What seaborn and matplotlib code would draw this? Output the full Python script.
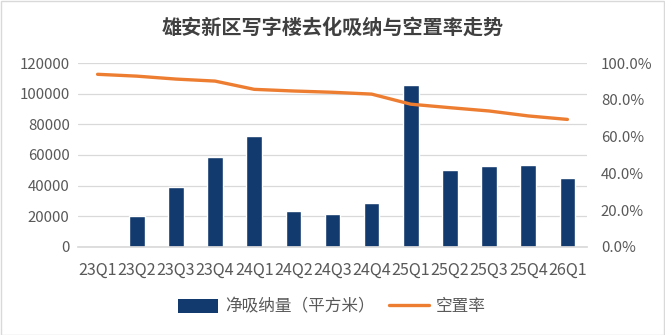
import numpy as np
import pandas as pd
import matplotlib
matplotlib.use("Agg")
import matplotlib.pyplot as plt
import seaborn as sns
from matplotlib.lines import Line2D
from matplotlib.patches import Patch, Rectangle

categories = ["23Q1", "23Q2", "23Q3", "23Q4", "24Q1", "24Q2", "24Q3", "24Q4",
              "25Q1", "25Q2", "25Q3", "25Q4", "26Q1"]
absorption = [0, 20000, 39300, 58800, 72500, 23300, 21300, 28600,
              106000, 50200, 52800, 53500, 45000]
vacancy = [94.0, 93.0, 91.4, 90.3, 85.8, 84.9, 84.2, 83.2,
           77.7, 75.8, 74.0, 71.3, 69.4]
left_ticks = [0, 20000, 40000, 60000, 80000, 100000, 120000]
right_ticks = [0, 20, 40, 60, 80, 100]

title = "雄安新区写字楼去化吸纳与空置率走势"
bar_label = "净吸纳量（平方米）"
line_label = "空置率"

sns.set_theme(style="white")
plt.rcParams['font.family'] = ['Noto Sans CJK SC', 'DejaVu Sans']

bar_color = "#123A6E"
line_color = "#ED7D31"
text_color = "#595959"

df = pd.DataFrame({"q": categories, "abs": absorption, "vac": vacancy,
                   "pos": np.arange(len(categories))})

fig = plt.figure(figsize=(6.65, 3.35), dpi=100)
ax = fig.add_axes([78/665, 1 - 246.7/335, (587-78)/665, (246.7-63.3)/335])

sns.barplot(data=df, x="q", y="abs", color=bar_color, width=0.4,
            saturation=1, ax=ax, zorder=2)
ax.set_ylim(0, 120000)
ax.set_yticks(left_ticks)
ax.set_yticklabels([str(v) for v in left_ticks])
ax.set_xlim(-0.5, len(categories) - 0.5)
ax.grid(axis="y", color="#D9D9D9", linewidth=0.9, zorder=0)
ax.set_axisbelow(True)
for s in ax.spines.values():
    s.set_visible(False)
ax.spines["bottom"].set_visible(True)
ax.spines["bottom"].set_color("#D9D9D9")
ax.set_xlabel("")
ax.set_ylabel("")
ax.tick_params(axis="y", length=0, labelsize=10.8, colors=text_color, pad=6)
ax.tick_params(axis="x", length=0, labelsize=11.6, colors=text_color, pad=11)

ax2 = ax.twinx()
sns.lineplot(data=df, x="pos", y="vac", color=line_color, linewidth=2.4,
             sort=False, ax=ax2)
ax2.set_ylim(0, 100)
ax2.set_yticks(right_ticks)
ax2.set_yticklabels([f"{v:.1f}%" for v in right_ticks])
ax2.set_ylabel("")
for s in ax2.spines.values():
    s.set_visible(False)
ax2.tick_params(axis="y", length=0, labelsize=10.8, colors=text_color, pad=10)
ax2.set_xlim(-0.5, len(categories) - 0.5)

fig.text(0.5, 1 - 27/335, title, ha="center", va="center", fontsize=14.5,
         fontweight="bold", color="#404040")

handles = [Patch(facecolor=bar_color, edgecolor="none"),
           Line2D([0], [0], color=line_color, linewidth=2.4)]
fig.legend(handles, [bar_label, line_label], loc="center",
           bbox_to_anchor=(332/665, 1 - 307/335), ncol=2, frameon=False,
           fontsize=12, labelcolor=text_color, handlelength=2.4,
           handleheight=0.9, handletextpad=0.4, columnspacing=0.9)

fig.patches.append(Rectangle((0.5/665, 0.5/335), 1 - 1.5/665, 1 - 1.5/335,
                             transform=fig.transFigure, fill=False,
                             edgecolor="#D9D9D9", linewidth=1))

fig.savefig("out.png", dpi=100)
